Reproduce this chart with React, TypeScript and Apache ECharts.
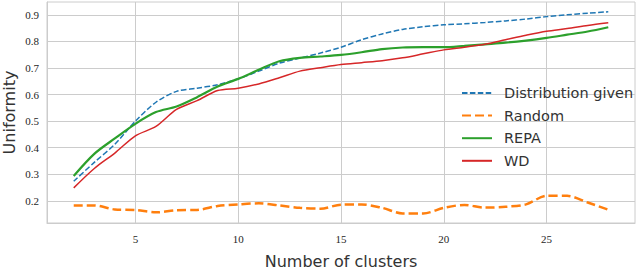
import React, { useEffect, useRef } from "react";
import * as echarts from "echarts";

const clusters = [2, 3, 4, 5, 6, 7, 8, 9, 10, 11, 12, 13, 14, 15, 16, 17, 18, 19, 20, 21, 22, 23, 24, 25, 26, 27, 28];
const distributionGiven = [0.274, 0.345, 0.413, 0.5, 0.571, 0.612, 0.624, 0.637, 0.659, 0.688, 0.718, 0.737, 0.756, 0.778, 0.806, 0.828, 0.845, 0.855, 0.862, 0.866, 0.871, 0.877, 0.884, 0.893, 0.9, 0.906, 0.911];
const random = [0.183, 0.183, 0.168, 0.166, 0.157, 0.165, 0.166, 0.181, 0.187, 0.191, 0.183, 0.174, 0.171, 0.186, 0.187, 0.174, 0.153, 0.153, 0.174, 0.185, 0.175, 0.178, 0.187, 0.219, 0.219, 0.194, 0.167];
const repa = [0.294, 0.377, 0.435, 0.49, 0.534, 0.555, 0.59, 0.63, 0.659, 0.693, 0.725, 0.738, 0.743, 0.749, 0.759, 0.771, 0.777, 0.778, 0.778, 0.783, 0.789, 0.795, 0.803, 0.813, 0.825, 0.837, 0.853];
const wd = [0.249, 0.322, 0.38, 0.445, 0.48, 0.544, 0.577, 0.615, 0.624, 0.64, 0.663, 0.688, 0.701, 0.713, 0.72, 0.727, 0.738, 0.753, 0.768, 0.778, 0.789, 0.806, 0.823, 0.838, 0.848, 0.86, 0.87];
const xTicks = [5, 10, 15, 20, 25];
const yTicks = [0.2, 0.3, 0.4, 0.5, 0.6, 0.7, 0.8, 0.9];

const pair = (vals: number[]) => clusters.map((c, i) => [c, vals[i]]);

export default function App() {
  const ref = useRef<HTMLDivElement>(null);
  useEffect(() => {
    if (!ref.current) return;
    const chart = echarts.init(ref.current, undefined, { renderer: "svg" });
    const tickFont = { fontFamily: "Liberation Serif", fontSize: 11, color: "#262626" };
    chart.setOption({
      animation: false,
      backgroundColor: "#ffffff",
      grid: {
        left: 47, right: 3, top: 2, bottom: 49,
        containLabel: false,
        outerBoundsMode: "none",
        show: true, borderColor: "#cccccc", borderWidth: 1,
      },
      xAxis: {
        type: "value",
        min: 0.7,
        max: 29.3,
        name: "Number of clusters",
        nameLocation: "middle",
        nameGap: 31,
        nameMoveOverlap: false,
        nameTextStyle: { fontFamily: "DejaVu Sans", fontSize: 16, lineHeight: 15, color: "#333333" },
        axisLine: { show: true, lineStyle: { color: "#cccccc" } },
        axisTick: { show: false, customValues: xTicks },
        axisLabel: { ...tickFont, margin: 10, customValues: xTicks },
        splitLine: { show: true, lineStyle: { color: "#cccccc", width: 1 } },
      },
      yAxis: {
        type: "value",
        min: 0.117,
        max: 0.948,
        name: "Uniformity",
        nameLocation: "middle",
        nameGap: 30,
        nameMoveOverlap: false,
        nameTextStyle: { fontFamily: "DejaVu Sans", fontSize: 16, lineHeight: 15, color: "#333333" },
        axisLine: { show: true, lineStyle: { color: "#cccccc" } },
        axisTick: { show: false, customValues: yTicks },
        axisLabel: { ...tickFont, margin: 8, customValues: yTicks, formatter: (v: number) => v.toFixed(1) },
        splitLine: { show: true, lineStyle: { color: "#cccccc", width: 1 } },
      },
      legend: {
        orient: "vertical",
        left: 461,
        top: 84,
        padding: 0,
        itemWidth: 30,
        itemHeight: 14,
        itemGap: 4.6,
        itemStyle: { opacity: 0 },
        textStyle: { fontFamily: "DejaVu Sans", fontSize: 14.5, color: "#333333", lineHeight: 18, padding: [0, 0, 0, 7] },
        data: ["Distribution given", "Random", "REPA", "WD"],
      },
      series: [
        {
          name: "Distribution given",
          type: "line",
          data: pair(distributionGiven),
          symbol: "none",
          smooth: 0.3,
          lineStyle: { color: "#1f77b4", width: 1.5, type: [5.5, 2.4] },
          itemStyle: { color: "#1f77b4" },
        },
        {
          name: "Random",
          type: "line",
          data: pair(random),
          symbol: "none",
          smooth: 0.3,
          lineStyle: { color: "#ff7f0e", width: 2.5, type: [9, 4] },
          itemStyle: { color: "#ff7f0e" },
        },
        {
          name: "REPA",
          type: "line",
          data: pair(repa),
          symbol: "none",
          smooth: 0.3,
          lineStyle: { color: "#2ca02c", width: 2.2 },
          itemStyle: { color: "#2ca02c" },
        },
        {
          name: "WD",
          type: "line",
          data: pair(wd),
          symbol: "none",
          smooth: 0.3,
          lineStyle: { color: "#d62728", width: 1.5 },
          itemStyle: { color: "#d62728" },
        },
      ],
    });
    return () => chart.dispose();
  }, []);
  return <div ref={ref} style={{ position: "fixed", left: 0, top: 0, width: 638, height: 272, background: "#fff" }} />;
}
